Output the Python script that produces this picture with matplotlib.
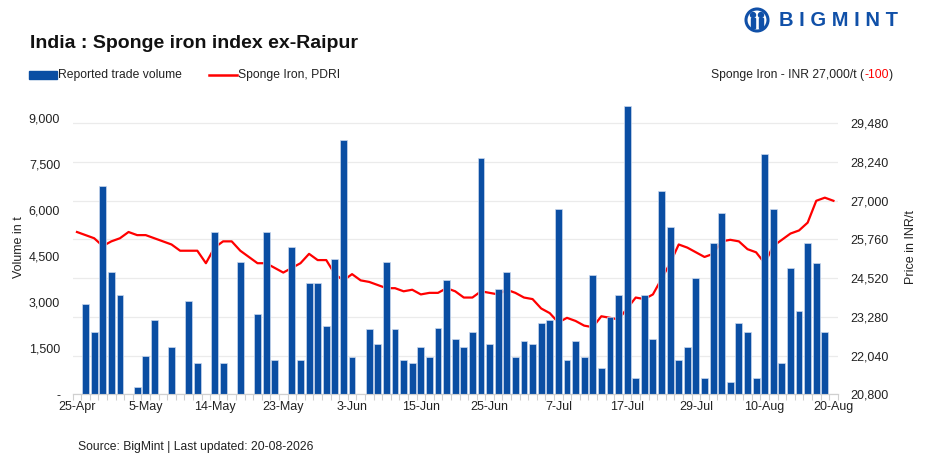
import matplotlib
matplotlib.use('Agg')
import matplotlib.pyplot as plt
import numpy as np
from matplotlib.patches import Rectangle, Ellipse
from matplotlib.lines import Line2D
from matplotlib.ticker import FixedLocator, FuncFormatter

plt.rcParams['font.family'] = ['Liberation Sans', 'DejaVu Sans']

# reported trade volume (t), one value per trading day, 0 = no trade reported
volume = [0, 2950, 2020, 6800, 4000, 3230, 0, 230, 1240, 2420,
          0, 1530, 0, 3030, 1020, 0, 5310, 1020, 0, 4310,
          0, 2630, 5310, 1130, 0, 4810, 1130, 3630, 3630, 2230,
          4410, 8310, 1230, 0, 2120, 1630, 4310, 2120, 1130, 1020,
          1530, 1230, 2160, 3730, 1810, 1530, 2020, 7710, 1630, 3420,
          4000, 1230, 1740, 1630, 2310, 2420, 6030, 1130, 1740, 1230,
          3880, 850, 2510, 3230, 9390, 520, 3230, 1810, 6630, 5460,
          1130, 1530, 3800, 520, 4920, 5910, 410, 2310, 2020, 520,
          7830, 6030, 1020, 4130, 2730, 4920, 4270, 2020, 0]

# Sponge Iron PDRI price (INR/t)
price = [26000, 25900, 25800, 25550, 25700, 25800, 26000, 25900, 25900, 25800,
         25700, 25600, 25400, 25400, 25400, 25000, 25500, 25700, 25700, 25400,
         25200, 25000, 25000, 24850, 24700, 24850, 25000, 25300, 25100, 25100,
         24650, 24450, 24650, 24450, 24400, 24300, 24200, 24200, 24100, 24150,
         24000, 24050, 24050, 24200, 24100, 23900, 23900, 24100, 24050, 24000,
         24150, 24050, 23900, 23850, 23550, 23400, 23100, 23250, 23150, 23000,
         22950, 23300, 23250, 23200, 23550, 23900, 23850, 24000, 24500, 25000,
         25600, 25500, 25350, 25200, 25300, 25700, 25750, 25700, 25450, 25350,
         25000, 25550, 25750, 25950, 26050, 26300, 27000, 27100, 27000]

tick_labels = ['25-Apr', '5-May', '14-May', '23-May', '3-Jun', '15-Jun',
               '25-Jun', '7-Jul', '17-Jul', '29-Jul', '10-Aug', '20-Aug']
vol_ticks = [0, 1500, 3000, 4500, 6000, 7500, 9000]
price_ticks = [20800, 22040, 23280, 24520, 25760, 27000, 28240, 29480]

blue = '#0a4ea3'
red = '#ff0000'
grey_txt = '#222222'
W, H = 945, 467

x = np.arange(len(volume))

fig = plt.figure(figsize=(9.45, 4.67), dpi=100)
ax = fig.add_axes([0.0769, 0.1557, 0.8096, 0.6302])
ax2 = ax.twinx()

ax.bar(x, volume, width=0.8, color=blue, edgecolor='#c9d8ee', linewidth=0.5, zorder=2)
ax2.plot(x, price, color=red, lw=1.6, zorder=3)

ax.set_xlim(-0.5, len(volume) - 0.5)
ax.set_ylim(0, 9600)
ax2.set_ylim(20800, 30230)

# gridlines come from the price axis
ax.set_zorder(ax2.get_zorder() + 1)
ax.patch.set_visible(False)
ax2.yaxis.set_major_locator(FixedLocator(price_ticks))
ax2.grid(axis='y', color='#ebebeb', lw=0.9)
ax2.yaxis.set_major_formatter(FuncFormatter(lambda v, p: f'{v:,.0f}'))

ax.yaxis.set_major_locator(FixedLocator(vol_ticks))
ax.yaxis.set_major_formatter(FuncFormatter(lambda v, p: '-' if v == 0 else f'{v:,.0f}'))

ax.set_xticks(x[::8])
ax.set_xticklabels(tick_labels)
ax.set_xticks(np.arange(-0.5, len(volume), 1), minor=True)
ax.tick_params(axis='x', which='major', length=0, pad=5, labelsize=9, colors=grey_txt)
ax.tick_params(axis='x', which='minor', length=4, color='#d0d0d0', width=0.8)
ax.tick_params(axis='y', length=0, pad=9, labelsize=9, colors=grey_txt)
ax2.tick_params(axis='y', length=0, pad=9, labelsize=9, colors=grey_txt)

for a in (ax, ax2):
    for s in ('top', 'left', 'right'):
        a.spines[s].set_visible(False)
    a.spines['bottom'].set_color('#d0d0d0')

ax.set_ylabel('Volume in t', fontsize=9, color=grey_txt, labelpad=2.5)
ax2.set_ylabel('Price in INR/t', fontsize=9, color=grey_txt, labelpad=12)

# title
fig.text(30 / W, 1 - 44 / H, 'India : Sponge iron index ex-Raipur', fontsize=14,
         fontweight='bold', va='center', ha='left', color='#111111')

# legend
fig.patches.append(Rectangle((29 / W, 1 - 79 / H), 28 / W, 8 / H,
                             transform=fig.transFigure, color=blue))
fig.text(58 / W, 1 - 75 / H, 'Reported trade volume', fontsize=8.7, va='center', color=grey_txt)
fig.lines.append(Line2D([209 / W, 237 / W], [1 - 75 / H, 1 - 75 / H],
                        transform=fig.transFigure, color=red, lw=1.8))
fig.text(238 / W, 1 - 75 / H, 'Sponge Iron, PDRI', fontsize=8.7, va='center', color=grey_txt)

# latest price annotation
t1 = fig.text(893 / W, 1 - 75 / H, ')', fontsize=8.7, va='center', ha='right', color=grey_txt)
fig.canvas.draw()
r = fig.canvas.get_renderer()
bb = t1.get_window_extent(r)
t2 = fig.text(bb.x0 / W, 1 - 75 / H, '-100', fontsize=8.7, va='center', ha='right', color=red)
bb = t2.get_window_extent(r)
fig.text(bb.x0 / W, 1 - 75 / H, 'Sponge Iron - INR 27,000/t (', fontsize=8.7,
         va='center', ha='right', color=grey_txt)

# logo
logo_blue = '#1050a8'
fig.patches.append(Ellipse((757 / W, 1 - 20 / H), 22 / W, 22 / H, transform=fig.transFigure,
                           facecolor='white', edgecolor=logo_blue, lw=2.2))
for hx in (753, 761):
    fig.patches.append(Ellipse((hx / W, 1 - 15 / H), 5 / W, 5 / H, transform=fig.transFigure,
                               color=logo_blue))
    fig.patches.append(Rectangle(((hx - 1.8) / W, 1 - 28 / H), 3.6 / W, 10 / H,
                                 transform=fig.transFigure, color=logo_blue))
fig.text(779 / W, 1 - 21 / H, 'B I G M I N T', fontsize=14.5, fontweight='bold',
         va='center', ha='left', color=logo_blue)

# footer
fig.text(78 / W, 1 - 447 / H, 'Source: BigMint | Last updated: 20-08-2026', fontsize=8.7,
         va='center', ha='left', color=grey_txt)

fig.savefig('out.png', dpi=100)
